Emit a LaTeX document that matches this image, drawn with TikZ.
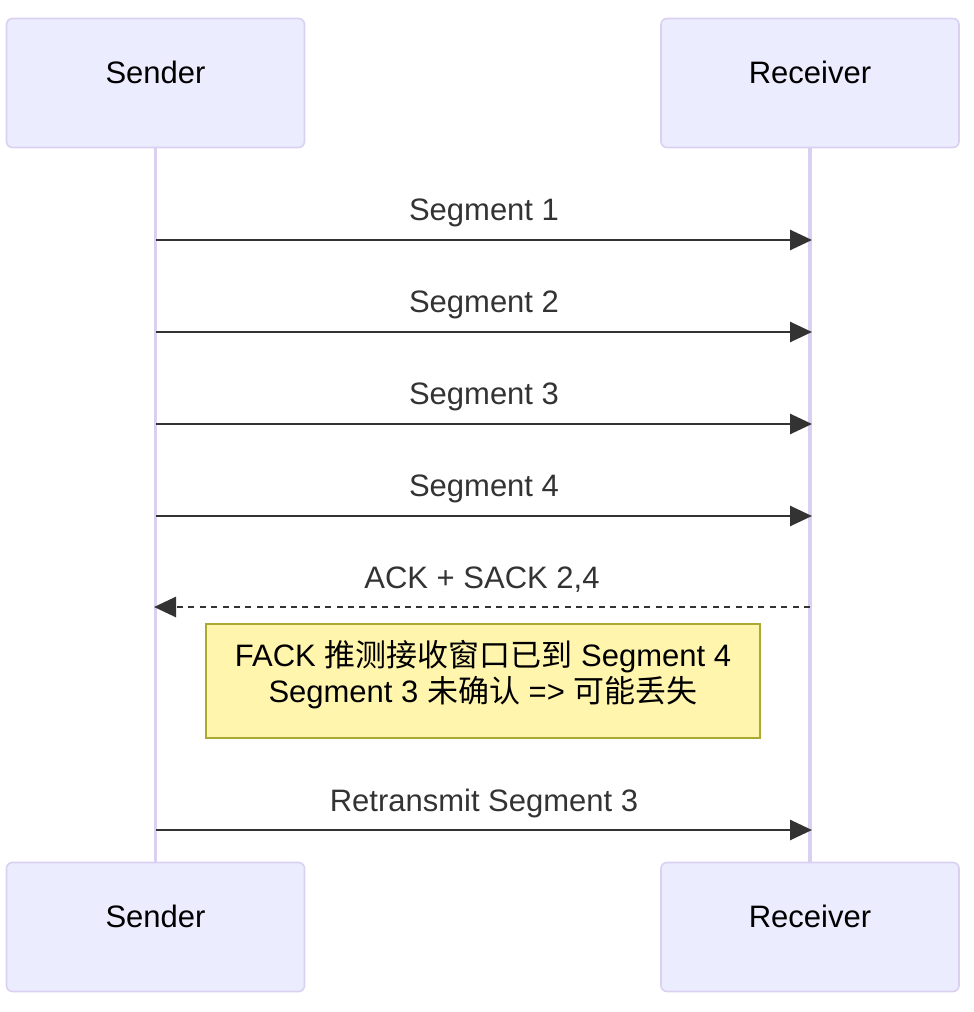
\documentclass[tikz,border=0pt]{standalone}
\usepackage{fontspec}
\setmainfont{Liberation Sans}
\newfontfamily\cjk{Noto Sans CJK SC}
\usetikzlibrary{arrows.meta}
\definecolor{actorfill}{HTML}{ECECFF}
\definecolor{actorline}{HTML}{DAD0F2}
\definecolor{notefill}{HTML}{FFF5AD}
\definecolor{noteline}{HTML}{AAAA33}
\definecolor{msgcol}{HTML}{333333}
\newcommand{\diafont}{\fontsize{15.5pt}{18pt}\selectfont}
\tikzstyle{actor} = [rectangle, rounded corners=3pt, minimum width=149pt, minimum height=64.5pt, draw=actorline, fill=actorfill, line width=0.8pt, text=black, font=\diafont, text height=11pt, text depth=11pt]
\tikzstyle{note} = [rectangle, minimum width=277pt, minimum height=57pt, draw=noteline, fill=notefill, line width=0.8pt, text=black, font=\diafont, align=center, text depth=9.5pt]
\tikzstyle{lifeline} = [draw=actorline, line width=1.6pt]
\tikzstyle{msg} = [draw=msgcol, line width=1.35pt, -{Triangle[length=11pt,width=10pt]}]
\tikzstyle{reply} = [msg, dash pattern=on 3pt off 2.7pt]
\tikzstyle{lbl} = [midway, yshift=13.5pt, text=msgcol, font=\diafont]

\begin{document}
\begin{tikzpicture}[x=0.5pt, y=-0.5pt]
\useasboundingbox (0,0) rectangle (974,1012);

\node (0) [actor] at (155.5,83) {Sender};
\node (1) [actor] at (810,83) {Receiver};
\node (2) [actor] at (155.5,927) {Sender};
\node (3) [actor] at (810,927) {Receiver};

\draw [lifeline] (0) -- (2);
\draw [lifeline] (1) -- (3);

\coordinate (s1) at (156,240);  \coordinate (r1) at (812,240);
\coordinate (s2) at (156,332);  \coordinate (r2) at (812,332);
\coordinate (s3) at (156,424);  \coordinate (r3) at (812,424);
\coordinate (s4) at (156,516);  \coordinate (r4) at (812,516);
\coordinate (s5) at (154,607);  \coordinate (r5) at (810,607);
\coordinate (s6) at (156,830);  \coordinate (r6) at (812,830);

\node (4) [note] at (483,681) {FACK {\cjk 推测接收窗口已到} Segment 4\\Segment 3 {\cjk 未确认} => {\cjk 可能丢失}};

\draw [msg] (s1) -- node[lbl]{Segment 1} (r1);
\draw [msg] (s2) -- node[lbl]{Segment 2} (r2);
\draw [msg] (s3) -- node[lbl]{Segment 3} (r3);
\draw [msg] (s4) -- node[lbl]{Segment 4} (r4);
\draw [reply] (r5) -- node[lbl]{ACK + SACK 2,4} (s5);
\draw [msg] (s6) -- node[lbl]{Retransmit Segment 3} (r6);

\end{tikzpicture}
\end{document}
